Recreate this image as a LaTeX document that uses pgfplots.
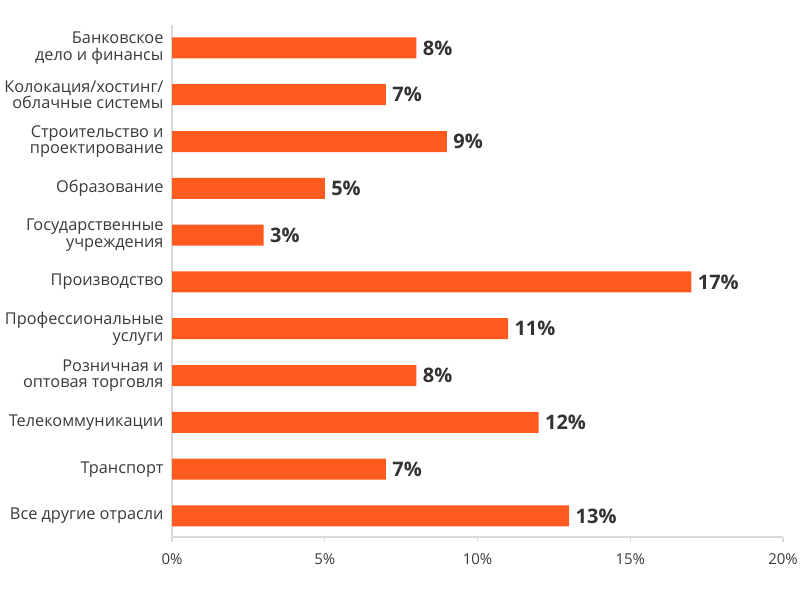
\documentclass[border=0pt]{standalone}
\usepackage{pgfplots}
\pgfplotsset{compat=1.18}
\usepackage{fontspec}
\setmainfont{Open Sans}
\definecolor{barorange}{HTML}{FF5B1E}
\definecolor{axgray}{HTML}{D9D9D9}
\definecolor{txtgray}{HTML}{333333}
\definecolor{labgray}{HTML}{3A3A3A}
\begin{document}
\begin{tikzpicture}
\useasboundingbox (0,0) rectangle (800bp,600bp);
\begin{axis}[
  at={(172bp,63bp)}, anchor=south west,
  scale only axis, width=611bp, height=512bp,
  xbar, bar width=21bp,
  xmin=0, xmax=20,
  ymin=-0.49, ymax=10.45, y dir=reverse,
  axis x line*=bottom, axis y line*=left,
  axis line style={draw=axgray, line width=1.3bp, -},
  xtick={0,5,10,15,20},
  xticklabel={\pgfmathprintnumber{\tick}\%},
  /pgf/number format/assume math mode=true,
  xtick style={draw=axgray, line width=1.3bp},
  tick align=outside, major tick length=5bp,
  xticklabel style={font=\fontsize{15bp}{17bp}\selectfont, text=labgray, yshift=-8bp},
  ytick={0,...,10},
  ytick style={draw=none},
  yticklabel style={font=\fontsize{16.3bp}{16.5bp}\selectfont, text=labgray, align=right, xshift=0bp},
  yticklabels={
    {Банковское\\дело и финансы},
    {Колокация/хостинг/\\облачные системы},
    {Строительство и\\проектирование},
    {Образование},
    {Государственные\\учреждения},
    {Производство},
    {Профессиональные\\услуги},
    {Розничная и\\оптовая торговля},
    {Телекоммуникации},
    {Транспорт},
    {Все другие отрасли}},
  point meta=x,
  nodes near coords={\pgfmathprintnumber{\pgfplotspointmeta}\%},
  nodes near coords style={font=\fontsize{20bp}{22bp}\selectfont\bfseries, text=txtgray, anchor=west, xshift=3bp},
  clip=false,
]
\addplot[fill=barorange, draw=none] coordinates {
  (8,0) (7,1) (9,2) (5,3) (3,4) (17,5) (11,6) (8,7) (12,8) (7,9) (13,10)
};
\end{axis}
\end{tikzpicture}
\end{document}
